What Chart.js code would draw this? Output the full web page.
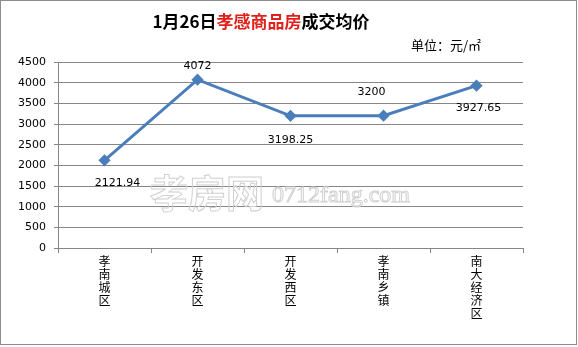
<!DOCTYPE html>
<html>
<head>
<meta charset="utf-8">
<script src="https://cdn.jsdelivr.net/npm/chart.js@4"></script>
<style>
  html, body { margin: 0; padding: 0; background: #fff; }
  #wrap { width: 578px; height: 347px; }
</style>
</head>
<body>
<div id="wrap"><canvas id="myChart" width="578" height="347"></canvas></div>
<script>
const districts = ['孝南城区', '开发东区', '开发西区', '孝南乡镇', '南大经济区'];
const avgPrice = [2121.94, 4072, 3198.25, 3200, 3927.65];
const priceLabels = ['2121.94', '4072', '3198.25', '3200', '3927.65'];

// label placement: below / above the point
const labelDy = [23, -14, 24, -24, 22];
const labelDx = [13, 0, 0, -12, 2];

const decor = {
  id: 'decor',
  beforeDatasetsDraw(chart) {
    const ctx = chart.ctx;
    ctx.save();
    ctx.strokeStyle = '#d0d0d0';
    ctx.lineWidth = 1;
    ctx.textBaseline = 'middle';
    ctx.textAlign = 'left';
    ctx.font = 'bold 38px "Noto Sans CJK SC"';
    ctx.strokeText('孝房网', 150, 193);
    ctx.font = '24px "Liberation Serif"';
    ctx.strokeText('0712fang.com', 272, 196);
    ctx.restore();
  },
  afterDraw(chart) {
    const ctx = chart.ctx;
    ctx.save();
    // outer frame
    ctx.strokeStyle = '#8c8c8c';
    ctx.lineWidth = 1;
    ctx.strokeRect(0.5, 0.5, 576, 344);

    // title with red part
    ctx.textBaseline = 'middle';
    ctx.font = 'bold 17px "Noto Sans CJK SC"';
    const parts = [['1月26日', '#000'], ['孝感商品房', '#e0201b'], ['成交均价', '#000']];
    let total = 0;
    parts.forEach(p => total += ctx.measureText(p[0]).width);
    let x = 261 - total / 2;
    ctx.textAlign = 'left';
    parts.forEach(p => {
      ctx.fillStyle = p[1];
      ctx.fillText(p[0], x, 22);
      x += ctx.measureText(p[0]).width;
    });

    // unit
    ctx.font = '13px "Noto Sans CJK SC"';
    ctx.fillStyle = '#000';
    ctx.textAlign = 'right';
    ctx.fillText('单位：元/㎡', 481, 45);

    // data labels
    const meta = chart.getDatasetMeta(0);
    ctx.font = '11px "DejaVu Sans"';
    ctx.textAlign = 'center';
    meta.data.forEach((pt, i) => {
      ctx.fillText(priceLabels[i], pt.x + labelDx[i], pt.y + labelDy[i]);
    });
    ctx.restore();
  }
};

const config = {
  type: 'line',
  data: {
    labels: districts.map(d => d.split('')),
    datasets: [{
      data: avgPrice,
      borderColor: '#4a7ebb',
      backgroundColor: '#4a7ebb',
      borderWidth: 3,
      pointStyle: 'rectRot',
      pointRadius: 4,
      pointHoverRadius: 4,
      tension: 0
    }]
  },
  options: {
    responsive: false,
    animation: false,
    layout: { padding: { top: 62, right: 55, left: 0, bottom: 0 } },
    plugins: {
      legend: { display: false },
      tooltip: { enabled: false }
    },
    scales: {
      x: {
        offset: true,
        afterFit(scale) { scale.height = 99; },
        border: { color: '#868686' },
        grid: { offset: true, drawOnChartArea: false, color: '#868686', tickLength: 5 },
        ticks: {
          color: '#000',
          maxRotation: 0,
          autoSkip: false,
          padding: 2,
          font: { family: '"Noto Sans CJK SC"', size: 12, lineHeight: '13px' }
        }
      },
      y: {
        min: 0,
        max: 4500,
        afterFit(scale) { scale.width = 58; },
        border: { color: '#868686' },
        grid: { color: '#868686', tickLength: 4 },
        ticks: {
          stepSize: 500,
          color: '#000',
          padding: 8,
          font: { family: '"DejaVu Sans"', size: 11 },
          callback: v => String(v)
        }
      }
    }
  },
  plugins: [decor]
};

const myChart = new Chart(document.getElementById('myChart'), config);
</script>
</body>
</html>
